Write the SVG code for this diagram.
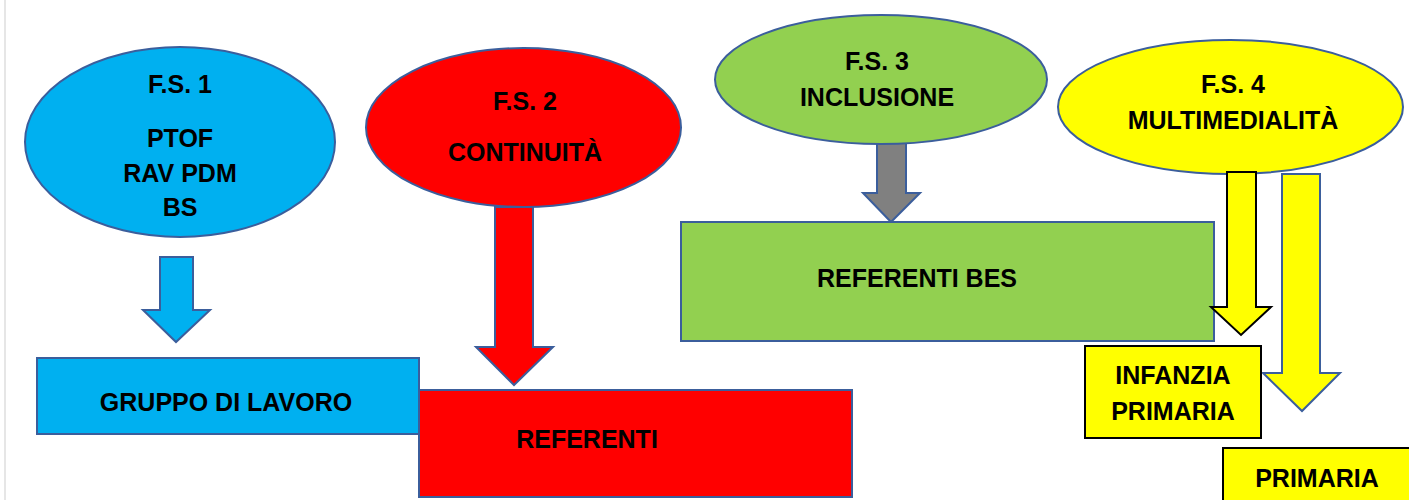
<svg xmlns="http://www.w3.org/2000/svg" width="1409" height="500" viewBox="0 0 1409 500">
<style>
.t{font-family:"Liberation Sans",Arial,sans-serif;font-weight:bold;font-size:25px;fill:#000;text-anchor:middle}
.bl{stroke:#3B5E9C;stroke-width:2}
.bk{stroke:#000;stroke-width:2}
</style>
<rect x="0" y="0" width="1409" height="500" fill="#fff"/>
<line x1="5" y1="0" x2="5" y2="500" stroke="#e6e6e6" stroke-width="2"/>
<g id="connectors">
<path class="bl" fill="#00B0F0" d="M160,257 H193 V310 H210 L176,342 L143,310 H160 Z"/>
<path class="bl" fill="#FF0000" d="M495,207 H533 V347 H553 L514,385 L476,347 H495 Z"/>
<path class="bl" fill="#808080" d="M877,142 H906 V193 H920 L891,222 L863,193 H877 Z"/>
<path class="bl" fill="#FFFF00" d="M1282,174 H1320 V373 H1340 L1302,411 L1263,373 H1282 Z"/>
</g>
<g id="n-fs1">
<ellipse class="bl" cx="180" cy="142" rx="155" ry="95" fill="#00B0F0"/>
<text class="t" x="180" y="93">F.S. 1</text>
<text class="t" x="180" y="147">PTOF</text>
<text class="t" x="180" y="182">RAV PDM</text>
<text class="t" x="180" y="216">BS</text>
</g>
<g id="n-gruppo">
<rect class="bl" x="37" y="358" width="382" height="76" fill="#00B0F0"/>
<text class="t" x="226" y="411">GRUPPO DI LAVORO</text>
</g>
<g id="n-fs2">
<ellipse class="bl" cx="523.5" cy="127.5" rx="157.5" ry="79.5" fill="#FF0000"/>
<text class="t" x="525" y="110">F.S. 2</text>
<text class="t" x="525" y="161">CONTINUITÀ</text>
</g>
<g id="n-referenti">
<rect class="bl" x="419" y="390" width="433" height="107" fill="#FF0000"/>
<text class="t" x="587" y="448">REFERENTI</text>
</g>
<g id="n-fs3">
<ellipse class="bl" cx="881" cy="79.5" rx="166" ry="64.5" fill="#92D050"/>
<text class="t" x="877" y="70">F.S. 3</text>
<text class="t" x="877" y="106">INCLUSIONE</text>
</g>
<g id="n-bes">
<rect class="bl" x="681" y="222" width="533" height="119" fill="#92D050"/>
<text class="t" x="917" y="287">REFERENTI BES</text>
</g>
<g id="n-fs4">
<ellipse class="bl" cx="1230.5" cy="107" rx="172.5" ry="67" fill="#FFFF00"/>
<text class="t" x="1233" y="93">F.S. 4</text>
<text class="t" x="1233" y="129">MULTIMEDIALITÀ</text>
</g>
<g id="connector-fs4-infanzia">
<path class="bk" fill="#FFFF00" d="M1227,172 H1256 V307 H1271 L1241,335 L1211,307 H1227 Z"/>
</g>
<g id="n-infanzia">
<rect class="bk" x="1085" y="346" width="176" height="92" fill="#FFFF00"/>
<text class="t" x="1173" y="384">INFANZIA</text>
<text class="t" x="1173" y="420">PRIMARIA</text>
</g>
<g id="n-primaria">
<rect class="bk" x="1223" y="448" width="200" height="60" fill="#FFFF00"/>
<text class="t" x="1317" y="487">PRIMARIA</text>
</g>
</svg>
